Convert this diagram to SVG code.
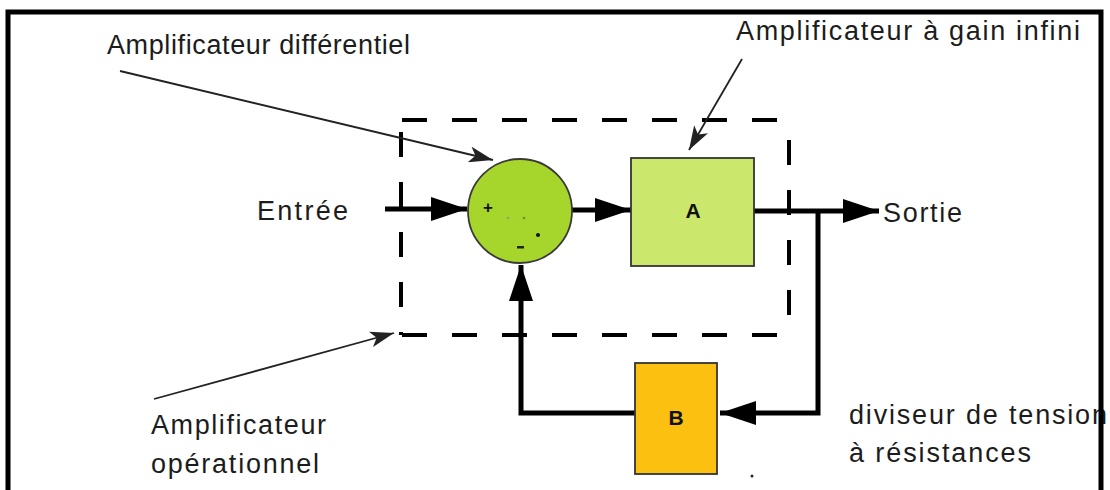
<svg xmlns="http://www.w3.org/2000/svg" width="1110" height="490" viewBox="0 0 1110 490">
<defs>
<style>
.lbl{font-family:"Liberation Sans",Arial,sans-serif;font-size:27px;fill:#1c1c1c}
.nodelbl{font-family:"Liberation Sans",Arial,sans-serif;font-size:21px;font-weight:bold;fill:#111;text-anchor:middle}
.thick{stroke:#000;stroke-width:5;fill:none}
.thin{stroke:#222;stroke-width:1.8;fill:none}
.dash{stroke:#000;stroke-width:4;stroke-dasharray:25 25;fill:none}
</style>
<marker id="big" markerWidth="36" markerHeight="24" refX="36" refY="12" orient="auto" markerUnits="userSpaceOnUse">
<path d="M0,0 L36,12 L0,24 Z" fill="#000"/>
</marker>
<marker id="small" markerWidth="24" markerHeight="16" refX="24" refY="8" orient="auto" markerUnits="userSpaceOnUse">
<path d="M0,0 L24,8 L0,16 L6,8 Z" fill="#222"/>
</marker>
</defs>
<rect x="0" y="0" width="1110" height="490" fill="#fff"/>

<g id="labels">
<text class="lbl" x="107" y="54" textLength="303" lengthAdjust="spacing">Amplificateur différentiel</text>
<text class="lbl" x="736" y="40" textLength="344" lengthAdjust="spacing">Amplificateur à gain infini</text>
<text class="lbl" x="257" y="220" textLength="91" lengthAdjust="spacing">Entrée</text>
<text class="lbl" x="883" y="222" textLength="79" lengthAdjust="spacing">Sortie</text>
<text class="lbl" x="151" y="434" textLength="175" lengthAdjust="spacing">Amplificateur</text>
<text class="lbl" x="151" y="473" textLength="168" lengthAdjust="spacing">opérationnel</text>
<text class="lbl" x="849" y="424" textLength="258" lengthAdjust="spacing">diviseur de tension</text>
<text class="lbl" x="849" y="462" textLength="182" lengthAdjust="spacing">à résistances</text>
</g>

<g id="opamp-boundary">
<line class="dash" x1="402" y1="120" x2="790" y2="120"/>
<line class="dash" x1="402" y1="335" x2="790" y2="335"/>
<line class="dash" x1="401" y1="132" x2="401" y2="335"/>
<line class="dash" x1="789" y1="140" x2="789" y2="335"/>
</g>

<g id="connectors">
<line class="thick" x1="385" y1="209" x2="467" y2="209" marker-end="url(#big)"/>
<line class="thick" x1="572" y1="210" x2="631" y2="210" marker-end="url(#big)"/>
<line class="thick" x1="754" y1="211" x2="879" y2="211" marker-end="url(#big)"/>
<polyline class="thick" points="818,211 818,413 720,413" marker-end="url(#big)"/>
<polyline class="thick" points="635,413 521,413 521,265" marker-end="url(#big)"/>
<line class="thin" x1="120" y1="71" x2="493" y2="160" marker-end="url(#small)"/>
<line class="thin" x1="742" y1="59" x2="689" y2="150" marker-end="url(#small)"/>
<line class="thin" x1="154" y1="399" x2="394" y2="333" marker-end="url(#small)"/>
</g>

<g id="diff-amp">
<circle cx="520" cy="211" r="52" fill="#a6d62b" stroke="#3a3a3a" stroke-width="1.8"/>
<text x="488" y="213" font-family="Liberation Sans,Arial,sans-serif" font-size="17" font-weight="bold" text-anchor="middle" fill="#111">+</text>
<rect x="517" y="246" width="7" height="2.5" fill="#222"/>
<circle cx="508" cy="218" r="1.3" fill="#8aa860"/>
<circle cx="524" cy="218" r="1.3" fill="#6f8c40"/>
<circle cx="538" cy="235" r="2" fill="#111"/>
</g>

<g id="gain-A">
<rect x="631" y="158" width="123" height="108" fill="#cbe86d" stroke="#333" stroke-width="1.8"/>
<text class="nodelbl" x="693" y="218">A</text>
</g>

<g id="divider-B">
<rect x="635" y="363" width="82" height="111" fill="#fcc010" stroke="#333" stroke-width="1.8"/>
<text class="nodelbl" x="676" y="425">B</text>
</g>
<circle cx="752" cy="476" r="1.5" fill="#222"/>

<g id="frame">
<path d="M8,490 L8,12 L1101,12 L1101,490" fill="none" stroke="#000" stroke-width="5"/>
</g>
</svg>
